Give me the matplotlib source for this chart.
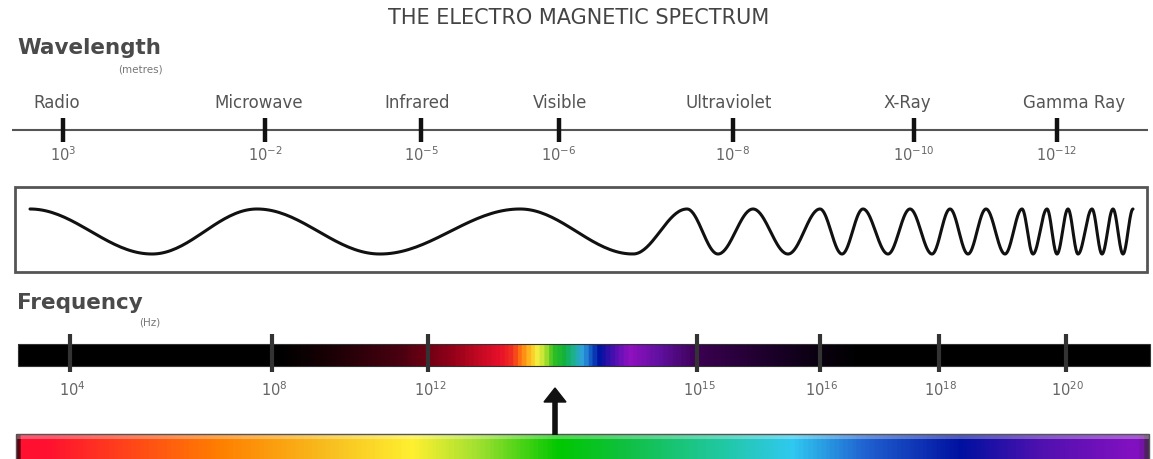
import numpy as np
import matplotlib
matplotlib.use("Agg")
import matplotlib.pyplot as plt
from matplotlib.colors import LinearSegmentedColormap
from matplotlib.patches import Rectangle

# ---------------- data ----------------
title = "THE ELECTRO MAGNETIC SPECTRUM"
bands = ["Radio", "Microwave", "Infrared", "Visible", "Ultraviolet", "X-Ray", "Gamma Ray"]
wavelength_exp = [3, -2, -5, -6, -8, -10, -12]
frequency_exp = [4, 8, 12, 15, 16, 18, 20]
# wave extrema positions (peak, trough alternating)
wave_extrema = [30, 152, 257, 380, 520, 633, 687, 718, 753, 788, 820, 842, 863, 888,
                910, 932, 950, 968, 986, 1005, 1022, 1033, 1047, 1057, 1068, 1078,
                1092, 1102, 1113, 1123, 1133]

# ---------------- layout (pixels) ----------------
W, H = 1153, 460
band_label_x = [57, 259, 417, 560, 729, 907, 1074]
wl_tick_x = [63, 265, 421, 559, 733, 914, 1057]
fr_tick_x = [70, 272, 428, 697, 820, 939, 1066]
TXT = "#555555"

fig = plt.figure(figsize=(W / 100, H / 100), dpi=100)
ax = fig.add_axes([0, 0, 1, 1])
ax.set_xlim(0, W)
ax.set_ylim(H, 0)
ax.axis("off")

ax.text(579, 18, title, ha="center", va="center", fontsize=15, color="#444444",
        family="DejaVu Sans")

# Wavelength header
ax.text(17, 48, "Wavelength", ha="left", va="center", fontsize=15.5, fontweight="bold", color="#4a4a4a")
ax.text(140, 70, "(metres)", ha="center", va="center", fontsize=7.5, color="#777777")

for lbl, x in zip(bands, band_label_x):
    ax.text(x, 103, lbl, ha="center", va="center", fontsize=12, color=TXT)

ax.plot([12, 1148], [131, 131], color="#555555", lw=1.5, solid_capstyle="butt")
for x, e in zip(wl_tick_x, wavelength_exp):
    ax.plot([x, x], [119, 143], color="#111111", lw=3.2, solid_capstyle="butt")
    ax.text(x, 155, r"$10^{%d}$" % e, ha="center", va="center", fontsize=10.5, color="#666666")

# Wave box
ax.add_patch(Rectangle((15, 188), 1132, 85, fill=False, edgecolor="#555555", lw=2))
ymid, amp = 232.5, 22.5
xs_all, ys_all = [], []
for i in range(len(wave_extrema) - 1):
    a, b = wave_extrema[i], wave_extrema[i + 1]
    sign = -1 if i % 2 == 0 else 1  # starts at peak (smaller y)
    t = np.linspace(0, 1, 40)
    xs_all.append(a + (b - a) * t)
    ys_all.append(ymid + sign * amp * np.cos(np.pi * t))
ax.plot(np.concatenate(xs_all), np.concatenate(ys_all), color="#111111", lw=2.2,
        solid_joinstyle="round", solid_capstyle="round")

# Frequency header
ax.text(17, 303, "Frequency", ha="left", va="center", fontsize=15.5, fontweight="bold", color="#4a4a4a")
ax.text(150, 323, "(Hz)", ha="center", va="center", fontsize=7.5, color="#777777")

# Frequency bar gradient
fb_x0, fb_x1 = 18, 1150
fb_stops = [
    (18, "#000000"), (280, "#000000"), (330, "#1a0005"), (400, "#4a0010"),
    (450, "#900018"), (500, "#e8102a"), (512, "#f03020"), (520, "#ff7010"),
    (530, "#ffc020"), (538, "#f0f040"), (545, "#b0e030"), (553, "#30c020"),
    (565, "#10b040"), (575, "#20b0a0"), (583, "#30a0e0"), (592, "#1050c0"),
    (600, "#0010a0"), (615, "#5010b0"), (630, "#9010c0"), (660, "#6010a0"),
    (700, "#3a0050"), (760, "#200030"), (820, "#0a0010"), (860, "#000000"),
    (1150, "#000000"),
]
cm1 = LinearSegmentedColormap.from_list(
    "fb", [((p - fb_x0) / (fb_x1 - fb_x0), c) for p, c in fb_stops])
grad = np.linspace(0, 1, 1200).reshape(1, -1)
ax.imshow(grad, cmap=cm1, extent=[fb_x0, fb_x1, 367, 345], aspect="auto",
          interpolation="bilinear", zorder=1)
ax.add_patch(Rectangle((fb_x0, 345), fb_x1 - fb_x0, 22, fill=False, edgecolor="#333333", lw=0.8, zorder=2))
for x, e in zip(fr_tick_x, frequency_exp):
    ax.plot([x, x], [335, 373], color="#333333", lw=3, solid_capstyle="butt", zorder=3)
    ax.text(x + 2, 390, r"$10^{%d}$" % e, ha="center", va="center", fontsize=10.5, color="#666666")

# Arrow
ax.plot([555, 555], [400, 436], color="#111111", lw=4, solid_capstyle="butt", zorder=3)
ax.fill([544, 555, 566], [403, 389, 403], color="#111111", zorder=3)

# Bottom visible spectrum bar
vb_x0, vb_x1 = 16, 1149
vb_stops = [
    (16, "#600010"), (20, "#ff1030"), (44, "#ff1030"), (220, "#ff8000"), (330, "#f8c020"),
    (412, "#fff030"), (478, "#a0e030"), (559, "#00c800"), (625, "#10c040"),
    (720, "#20c8a0"), (794, "#30c8f0"), (868, "#2060d0"), (963, "#0010a0"),
    (1044, "#5010b0"), (1130, "#8010c0"), (1143, "#8010c0"), (1149, "#502060"),
]
cm2 = LinearSegmentedColormap.from_list(
    "vb", [((p - vb_x0) / (vb_x1 - vb_x0), c) for p, c in vb_stops])
ax.imshow(grad, cmap=cm2, extent=[vb_x0, vb_x1, 462, 435], aspect="auto",
          interpolation="bilinear", zorder=1)
ax.add_patch(Rectangle((vb_x0, 436), vb_x1 - vb_x0, 4, color="white", alpha=0.3, lw=0, zorder=2))
ax.add_patch(Rectangle((vb_x0, 435), vb_x1 - vb_x0, 30, fill=False, edgecolor="#555555", lw=1, zorder=2))

ax.set_xlim(0, W)
ax.set_ylim(H, 0)
fig.savefig("out.png", dpi=100, facecolor="white")
